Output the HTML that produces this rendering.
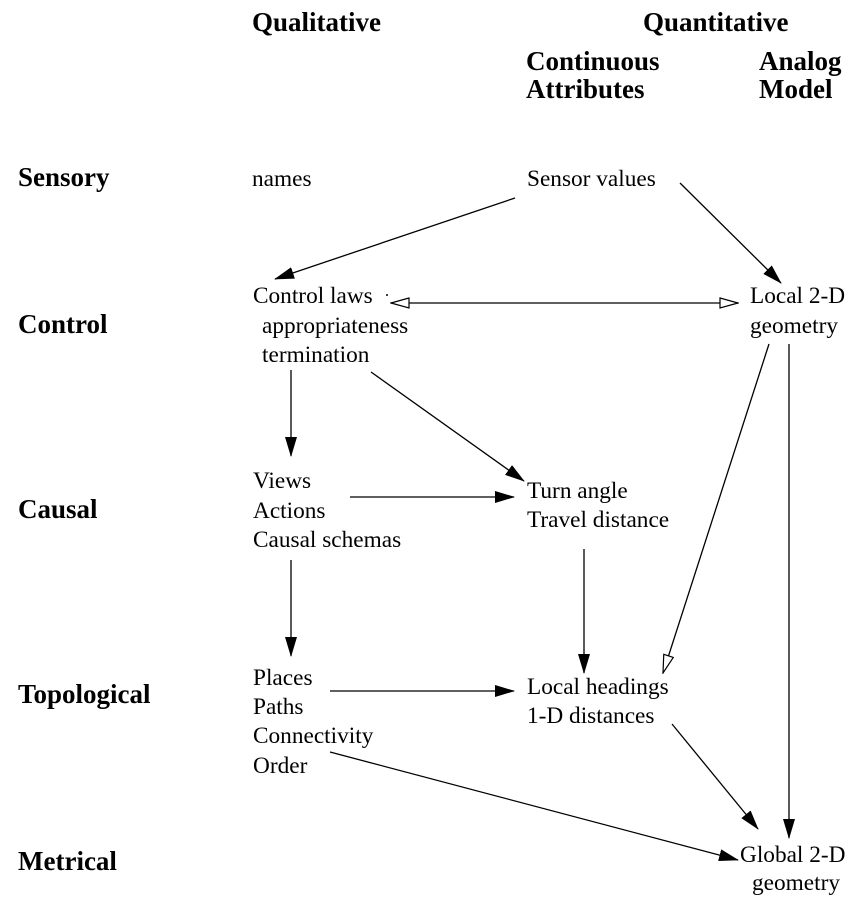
<!DOCTYPE html>
<html><head><style>
body{margin:0;background:#fff}
svg text{font-family:"Liberation Serif",serif;font-size:23.3px;fill:#000}
svg text.b{font-weight:bold;font-size:27px}
</style></head><body>
<svg width="868" height="908" viewBox="0 0 868 908" xmlns="http://www.w3.org/2000/svg">
<defs>
<marker id="f" markerWidth="20" markerHeight="12" refX="19" refY="6" orient="auto" markerUnits="userSpaceOnUse"><path d="M0,0 L20,6 L0,12 z" fill="#000"/></marker>
<marker id="o" markerWidth="20" markerHeight="12" refX="19" refY="6" orient="auto" markerUnits="userSpaceOnUse"><path d="M1,1 L19,6 L1,11 z" fill="#fff" stroke="#000" stroke-width="1.2"/></marker>
<marker id="os" markerWidth="20" markerHeight="12" refX="1" refY="6" orient="auto" markerUnits="userSpaceOnUse"><path d="M19,1 L1,6 L19,11 z" fill="#fff" stroke="#000" stroke-width="1.2"/></marker>
</defs>
<text class="b" x="252" y="31">Qualitative</text>
<text class="b" x="643" y="31">Quantitative</text>
<text class="b" x="526" y="70">Continuous</text>
<text class="b" x="526" y="98">Attributes</text>
<text class="b" x="759" y="70">Analog</text>
<text class="b" x="759" y="98">Model</text>
<text class="b" x="18" y="186">Sensory</text>
<text class="b" x="18" y="333">Control</text>
<text class="b" x="18" y="518">Causal</text>
<text class="b" x="18" y="703">Topological</text>
<text class="b" x="18" y="870">Metrical</text>
<text x="252" y="186">names</text>
<text x="527" y="186">Sensor values</text>
<text x="253" y="303">Control laws</text>
<text x="262" y="333">appropriateness</text>
<text x="262" y="362">termination</text>
<text x="750" y="303">Local 2-D</text>
<text x="750" y="333">geometry</text>
<text x="253" y="488">Views</text>
<text x="253" y="518">Actions</text>
<text x="253" y="547">Causal schemas</text>
<text x="527" y="498">Turn angle</text>
<text x="527" y="527">Travel distance</text>
<text x="253" y="685">Places</text>
<text x="253" y="714">Paths</text>
<text x="253" y="743">Connectivity</text>
<text x="253" y="773">Order</text>
<text x="527" y="694">Local headings</text>
<text x="527" y="723">1-D distances</text>
<text x="740" y="862">Global 2-D</text>
<text x="752" y="890">geometry</text>
<g stroke="#000" stroke-width="1.3" fill="none">
<line x1="515" y1="198" x2="275" y2="279" marker-end="url(#f)"/>
<line x1="680" y1="183" x2="781" y2="283" marker-end="url(#f)"/>
<line x1="391" y1="303" x2="738" y2="303" marker-start="url(#os)" marker-end="url(#o)"/>
<line x1="769" y1="344" x2="663" y2="673" marker-end="url(#o)"/>
<line x1="789" y1="344" x2="789" y2="838" marker-end="url(#f)"/>
<line x1="291" y1="370" x2="291" y2="456" marker-end="url(#f)"/>
<line x1="371" y1="372" x2="524" y2="481" marker-end="url(#f)"/>
<line x1="350" y1="497" x2="514" y2="497" marker-end="url(#f)"/>
<line x1="584" y1="549" x2="584" y2="673" marker-end="url(#f)"/>
<line x1="291" y1="560" x2="291" y2="656" marker-end="url(#f)"/>
<line x1="330" y1="691" x2="514" y2="691" marker-end="url(#f)"/>
<line x1="672" y1="724" x2="758" y2="829" marker-end="url(#f)"/>
<line x1="330" y1="752" x2="738" y2="860" marker-end="url(#f)"/>
</g>
<circle cx="387" cy="295" r="1" fill="#000"/>
</svg>
</body></html>
